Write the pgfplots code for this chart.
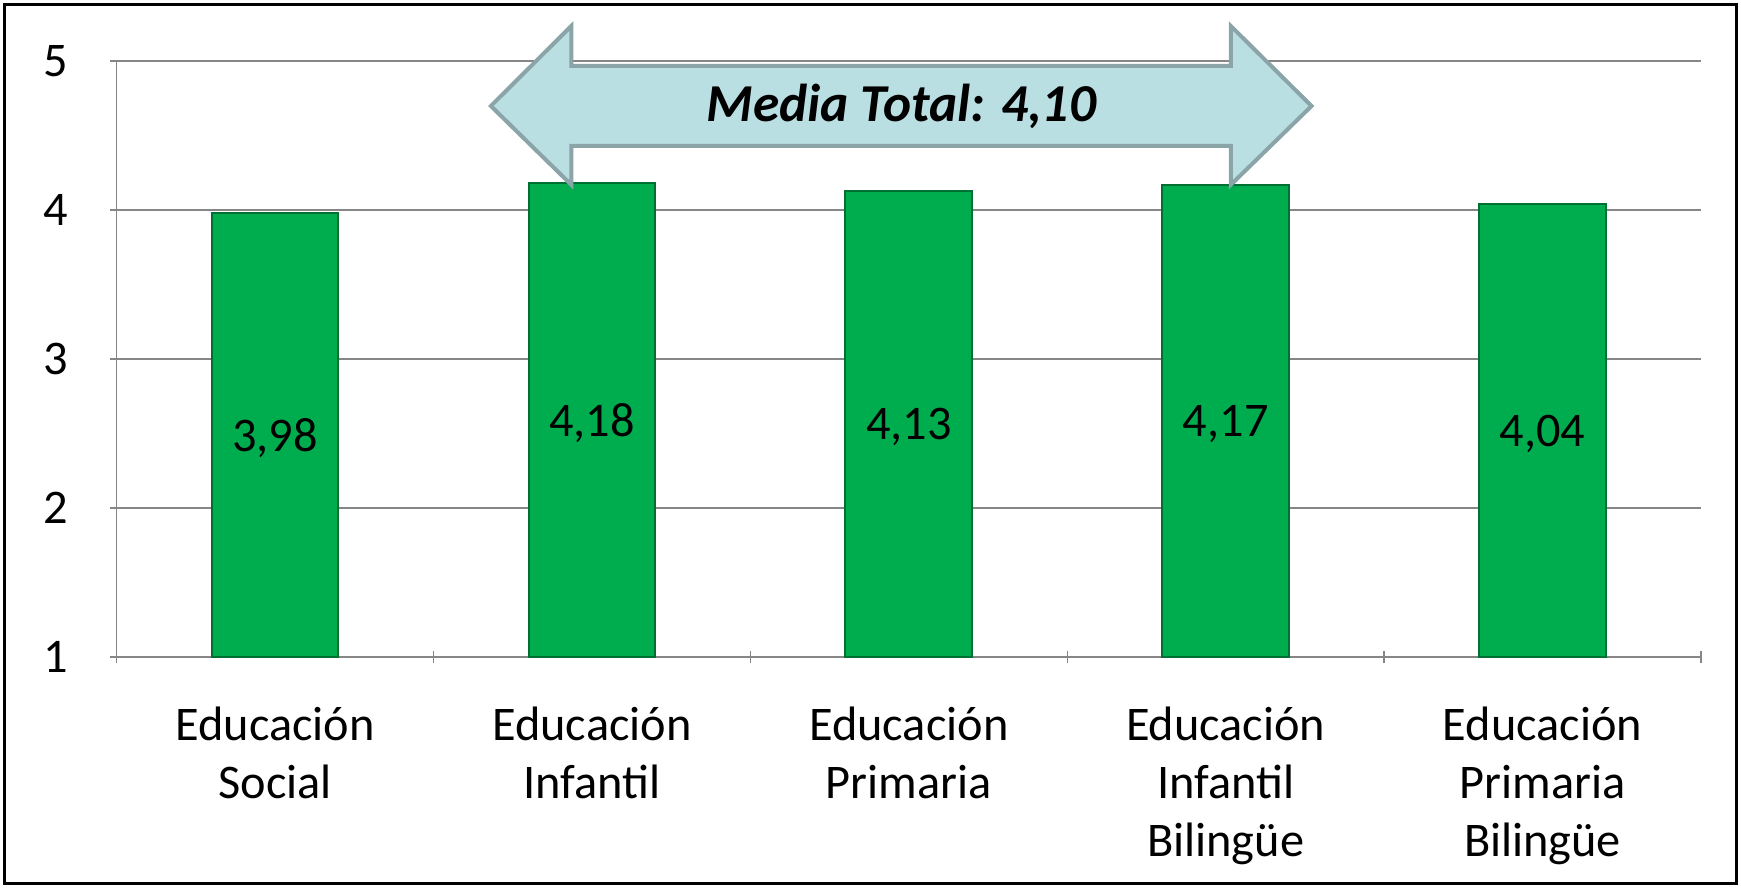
\documentclass[border=0pt]{standalone}
\usepackage{fontspec}
\setmainfont{Carlito}
\usepackage{pgfplots}
\pgfplotsset{compat=1.18}
\definecolor{bargreen}{RGB}{0,173,78}
\definecolor{baredge}{RGB}{0,112,50}
\definecolor{gridgray}{RGB}{134,134,134}
\definecolor{arrowfill}{RGB}{185,223,226}
\definecolor{arrowedge}{RGB}{138,164,167}

\begin{document}
\begin{tikzpicture}
\path[use as bounding box] (-35pt,-69.2pt) rectangle (487.4pt,197.2pt);
\draw[line width=0.9pt] (-33.6pt,-67.8pt) rectangle (486pt,195.8pt);
\begin{axis}[
  at={(0,0)}, anchor=south west,
  scale only axis,
  width=475.4pt, height=178.9pt,
  xmin=-0.5, xmax=4.5,
  ymin=1, ymax=5,
  ytick={1,2,3,4,5},
  xtick={0,1,2,3,4},
  xticklabels={{Educación\\Social},{Educación\\Infantil},{Educación\\Primaria},
               {Educación\\Infantil\\Bilingüe},{Educación\\Primaria\\Bilingüe}},
  minor xtick={-0.5,0.5,1.5,2.5,3.5,4.5},
  major x tick style={draw=none},
  minor x tick style={gridgray, line width=0.45pt},
  ytick style={gridgray, line width=0.45pt},
  major tick length=4pt, minor tick length=3.7pt,
  tick align=outside,
  axis x line=bottom, axis y line=left,
  axis line style={-, gridgray, line width=0.45pt},
  ymajorgrids, grid style={gridgray, line width=0.45pt},
  /pgf/number format/assume math mode=true,
  tick label style={font=\fontsize{14.5}{17.4}\selectfont},
  xticklabel style={align=center, anchor=north, yshift=-9.5pt},
  yticklabel style={anchor=east, xshift=-9pt},
]
  \addplot[ybar, bar width=0.4, fill=bargreen, draw=baredge, line width=0.6pt,
    visualization depends on={y \as \rawy},
    nodes near coords={\pgfmathprintnumber[fixed,fixed zerofill,precision=2,use comma]{\pgfplotspointmeta}},
    nodes near coords style={anchor=center, text=black,
      font=\fontsize{14.5}{16.7}\selectfont,
      yshift={-(\rawy-1)*22.36pt-1pt}},
  ] coordinates {(0,3.98)(1,4.18)(2,4.13)(3,4.17)(4,4.04)};

  \coordinate (a1) at (axis cs:0.681,4.698);
  \coordinate (a2) at (axis cs:0.935,5.235);
  \coordinate (a3) at (axis cs:0.935,4.967);
  \coordinate (a4) at (axis cs:3.016,4.967);
  \coordinate (a5) at (axis cs:3.016,5.235);
  \coordinate (a6) at (axis cs:3.271,4.698);
  \coordinate (a7) at (axis cs:3.016,4.169);
  \coordinate (a8) at (axis cs:3.016,4.430);
  \coordinate (a9) at (axis cs:0.935,4.430);
  \coordinate (a10) at (axis cs:0.935,4.169);
  \coordinate (ac) at (axis cs:1.976,4.698);
\end{axis}
\draw[fill=arrowfill, draw=arrowedge, line width=1.2pt, line join=miter]
  (a1)--(a2)--(a3)--(a4)--(a5)--(a6)--(a7)--(a8)--(a9)--(a10)--cycle;
\node[font=\fontsize{16}{19}\selectfont\bfseries\itshape] at (ac) {Media Total: 4,10};
\end{tikzpicture}
\end{document}
